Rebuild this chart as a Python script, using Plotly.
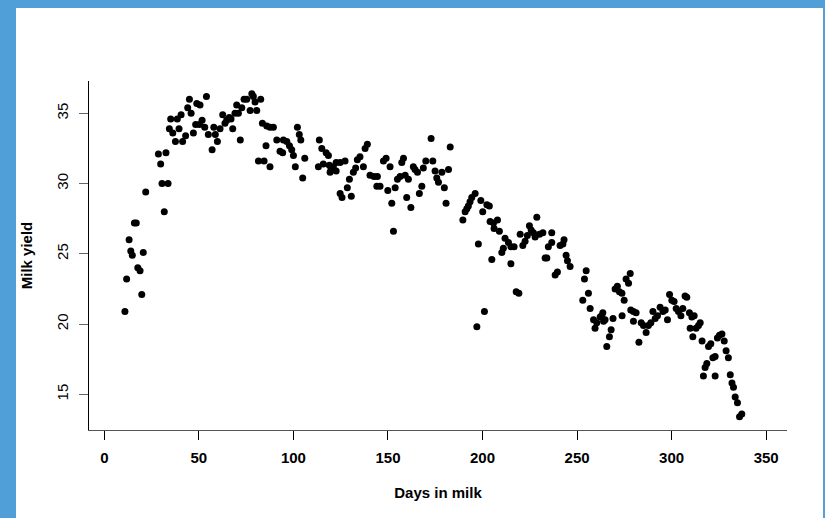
import plotly.graph_objects as go

# ---- data ----
days = [10.9, 11.8, 19.8, 13.1, 14.0, 14.8, 20.6, 17.7, 18.9, 15.9, 16.9, 21.9, 28.6, 29.8, 32.6, 30.5,
        33.7, 31.7, 35.1, 34.4, 36.2, 37.6, 39.5, 38.6, 40.6, 41.4, 43.0, 45.0, 44.1, 45.9, 48.9, 50.6,
        47.1, 48.3, 50.3, 51.7, 53.1, 54.0, 55.0, 57.0, 57.9, 58.7, 59.8, 61.2, 62.6, 63.8, 64.7, 66.1,
        67.0, 67.9, 69.1, 70.0, 70.9, 71.9, 72.7, 73.9, 75.3, 77.1, 78.0, 79.7, 80.6, 82.7, 78.8, 83.6,
        85.9, 87.6, 89.4, 85.5, 81.5, 84.5, 87.6, 91.2, 92.9,
        94.7, 96.5, 97.9, 94.3, 99.1, 100.0, 102.1, 103.1, 103.9, 101.0, 106.0, 104.9, 113.7, 115.0,
        117.3, 118.5, 115.8, 113.2, 119.0, 119.9, 121.1, 122.6, 124.7, 127.3, 119.4, 122.6, 124.7, 125.7,
        128.5, 130.6, 129.6, 131.7, 132.9, 133.8, 135.2, 137.0, 137.9, 139.1, 140.5, 142.6, 144.4, 144.1,
        145.8, 147.6, 149.0, 149.9, 151.1, 152.0, 152.9, 153.8, 155.0, 156.4, 157.3, 158.2, 159.1, 159.9,
        160.8, 162.1, 163.4, 164.3, 165.6, 166.6, 167.9, 168.7, 170.0, 172.8, 173.7, 174.9, 175.8, 176.7,
        178.5, 179.8, 180.7, 182.0, 182.9,
        196.1, 194.3, 193.4, 192.5, 191.7, 190.8, 189.6, 199.1, 200.1, 202.3, 203.6, 197.8, 204.9, 204.0,
        205.8, 207.9, 206.1, 208.9, 211.9, 211.0, 210.2, 213.7, 215.0, 216.7, 215.0, 217.8, 219.2, 201.0,
        197.0, 219.9, 221.3, 222.5, 223.7, 224.8, 225.7, 226.9, 228.7, 227.8, 230.1, 231.9, 233.1, 234.0,
        236.6, 234.8, 236.6, 238.4, 239.6, 241.0, 243.1, 242.5, 244.2, 244.9, 246.3, 254.8, 253.9, 256.0,
        253.0, 256.9, 258.7, 259.5, 260.4, 262.2, 263.6, 264.8, 264.0, 268.0, 267.1, 265.7, 269.0, 263.0,
        270.1, 271.3, 272.4, 273.7, 274.9, 275.9, 277.2, 278.1, 273.8, 278.4, 279.8, 281.2, 279.8, 282.7,
        283.9, 285.1, 286.5, 287.7, 289.0, 290.1, 291.3, 292.5, 293.9, 295.4, 296.6, 297.8, 298.9, 300.1,
        301.3, 302.4, 303.6, 304.9, 305.9, 307.1, 308.0, 309.4, 310.7, 311.9, 309.8, 311.2, 312.9, 314.2,
        315.1, 316.1, 319.5, 320.7, 316.8, 317.7, 318.6, 321.8, 323.0, 323.0, 324.2, 325.3, 326.6, 327.8,
        328.8, 330.0, 331.0, 331.9, 332.7, 333.6, 334.8, 335.9, 337.1]

milk_yield = [20.9, 23.2, 22.1, 26.0, 25.2, 24.9, 25.1, 24.0, 23.8, 27.2, 27.2, 29.4, 32.1, 31.4, 32.2, 30.0,
              30.0, 28.0, 34.6, 33.9, 33.6, 33.0, 33.9, 34.6, 34.9, 33.0, 33.4, 36.0, 35.4, 35.0, 35.7, 35.6,
              33.6, 34.2, 34.2, 34.5, 34.0, 36.2, 33.5, 32.4, 34.0, 33.5, 33.0, 33.9, 34.9, 34.3, 34.5, 34.7,
              34.6, 33.9, 35.0, 35.6, 35.0, 33.1, 35.4, 36.0, 36.0, 35.2, 36.4, 35.8, 35.2, 36.0, 36.2, 34.3,
              34.1, 34.0, 34.0, 32.7, 31.6, 31.6, 31.2, 33.1, 32.3,
              33.1, 33.0, 32.7, 32.2, 32.4, 32.0, 34.0, 33.5, 33.1, 31.2, 31.8, 30.4, 33.1, 32.5,
              32.2, 32.0, 31.4, 31.2, 31.3, 31.0, 31.2, 31.5, 31.5, 31.6, 30.8, 30.9, 29.3, 29.0,
              29.7, 29.1, 30.3, 30.8, 31.1, 31.7, 31.9, 31.2, 32.5, 32.8, 30.6, 30.5, 30.5, 29.8,
              29.8, 31.6, 31.8, 29.5, 31.2, 28.6, 26.6, 29.7, 30.3, 30.5, 31.5, 31.8, 30.6, 29.0,
              30.3, 28.3, 31.2, 31.0, 30.8, 29.3, 29.8, 31.1, 31.6, 33.2, 31.6, 30.9, 30.4, 30.1,
              30.8, 29.7, 28.6, 31.0, 32.6,
              29.3, 29.0, 28.7, 28.4, 28.2, 28.0, 27.4, 28.8, 28.0, 28.5, 28.4, 25.7, 24.6, 27.3,
              27.2, 27.4, 26.8, 26.6, 26.1, 25.4, 25.1, 25.8, 25.5, 25.5, 24.3, 22.3, 22.2, 20.9,
              19.8, 26.4, 25.6, 25.9, 26.3, 27.0, 26.7, 26.5, 27.6, 26.2, 26.4, 26.5, 24.7, 24.7,
              26.5, 25.5, 25.8, 23.5, 23.7, 25.6, 26.0, 25.7, 24.9, 24.5, 24.1, 23.8, 23.2, 22.2,
              21.7, 21.1, 20.3, 19.7, 20.1, 20.5, 20.8, 20.3, 20.2, 19.6, 19.1, 18.4, 20.4, 20.6,
              22.5, 22.7, 22.3, 22.2, 21.7, 23.2, 22.9, 23.6, 20.6, 21.0, 20.9, 20.8, 20.2, 18.7,
              20.1, 19.9, 19.4, 19.9, 20.1, 20.9, 20.4, 20.6, 21.2, 20.9, 21.0, 20.3, 22.1, 21.7,
              21.6, 21.1, 20.9, 20.6, 21.1, 22.0, 21.9, 20.8, 20.5, 20.6, 19.7, 19.1, 19.7, 19.9,
              20.1, 18.8, 18.4, 18.6, 16.3, 16.9, 17.2, 17.6, 17.7, 16.3, 19.0, 19.2, 19.3, 18.8,
              18.1, 17.6, 16.4, 15.8, 15.5, 14.8, 14.4, 13.4, 13.6]

x_ticks = [0, 50, 100, 150, 200, 250, 300, 350]
y_ticks = [15, 20, 25, 30, 35]

# ---- layout geometry (pixels) ----
W, H = 825, 518
L, R, T, B = 89, 787, 81, 430
pw, ph = R - L, B - T

def px_x(p):
    return (p - L) / pw

def px_y(p):
    return (B - p) / ph

FONT = "Liberation Sans, Arial, Helvetica, sans-serif"
BLUE = "#509FD9"

fig = go.Figure()
fig.add_trace(go.Scatter(
    x=days, y=milk_yield, mode="markers",
    marker=dict(color="black", size=7, line=dict(width=0)),
    hoverinfo="x+y", showlegend=False,
))

fig.update_layout(
    width=W, height=H,
    margin=dict(l=L, r=W - R, t=T, b=H - B, pad=0),
    paper_bgcolor="white", plot_bgcolor="white",
    font=dict(family=FONT, size=15, color="black"),
    xaxis=dict(
        range=[-8.1, 361], tickvals=x_ticks, ticktext=[str(v) for v in x_ticks],
        showline=True, linecolor="#555555", linewidth=1, mirror=False,
        ticks="outside", ticklen=9, tickcolor="black", tickwidth=1,
        showgrid=False, zeroline=False,
        tickfont=dict(family=FONT, size=15, color="black", weight="bold"),
        ticklabelstandoff=5,
        title=dict(text="Days in milk", font=dict(family=FONT, size=15, weight="bold"), standoff=22),
    ),
    yaxis=dict(
        range=[12.46, 37.3], tickvals=y_ticks, ticktext=[str(v) for v in y_ticks],
        showline=True, linecolor="black", linewidth=1, mirror=False,
        ticks="outside", ticklen=9, tickcolor="#666666", tickwidth=1,
        showgrid=False, zeroline=False, tickangle=-90,
        tickfont=dict(family=FONT, size=15, color="black"),
        ticklabelstandoff=5,
        title=dict(text="Milk yield", font=dict(family=FONT, size=15, weight="bold"), standoff=17),
    ),
    shapes=[
        dict(type="rect", xref="paper", yref="paper", x0=px_x(0), x1=px_x(16), y0=px_y(H), y1=px_y(0),
             fillcolor=BLUE, line=dict(width=0), layer="above"),
        dict(type="rect", xref="paper", yref="paper", x0=px_x(0), x1=px_x(W), y0=px_y(8), y1=px_y(0),
             fillcolor=BLUE, line=dict(width=0), layer="above"),
        dict(type="rect", xref="paper", yref="paper", x0=px_x(823), x1=px_x(W), y0=px_y(H), y1=px_y(0),
             fillcolor=BLUE, line=dict(width=0), layer="above"),
    ],
)

fig.write_html("out.html", config={"displayModeBar": False},
               post_script="document.body.style.margin='0';document.body.style.overflow='hidden';")
